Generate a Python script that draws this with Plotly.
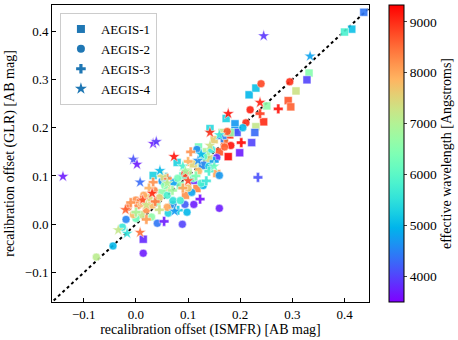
import numpy as np
import plotly.graph_objects as go

FONT = 'Liberation Serif'

# AEGIS-1 (squares)
x1 = [0.437, 0.414, 0.400, 0.332, 0.328, 0.307, 0.292, 0.297, 0.251, 0.245, 0.230, 0.228, 0.222, 0.199,
      0.177, 0.217, 0.230, 0.173, 0.190, 0.190, 0.194, 0.142, 0.079, 0.033, 0.014, 0.117, 0.111, 0.180,
      0.170, 0.160, 0.140, 0.125, 0.100, 0.085, 0.060, 0.040, 0.070, 0.150, 0.120, 0.181, 0.155, 0.095, 0.128,
      0.010, 0.030, 0.050, 0.110, 0.135, 0.165, 0.090]
y1 = [0.439, 0.404, 0.398, 0.313, 0.299, 0.276, 0.256, 0.243, 0.245, 0.212, 0.202, 0.190, 0.169, 0.148,
      0.140, 0.268, 0.282, 0.219, 0.208, 0.194, 0.190, 0.198, 0.128, 0.101, -0.031, 0.074, 0.091, 0.185,
      0.168, 0.150, 0.136, 0.120, 0.108, 0.080, 0.075, 0.045, 0.040, 0.175, 0.160, 0.190, 0.105, 0.060, 0.122,
      0.020, 0.040, 0.065, 0.125, 0.150, 0.190, 0.100]
w1 = [4400, 5100, 5800, 6500, 4000, 7300, 8700, 8600, 6600, 9000, 7200, 4300, 4000, 3700,
      9300, 5000, 5100, 5300, 4700, 4700, 4100, 5400, 5300, 5300, 3800, 8300, 3800, 8900,
      8400, 8700, 7400, 6700, 7000, 6400, 7400, 6600, 7600, 7600, 6300, 6600, 8000, 8200, 4500,
      7200, 7800, 6600, 7500, 6900, 7200, 6000]

# AEGIS-2 (circles)
x2 = [0.295, 0.240, 0.219, 0.211, 0.175, 0.205, 0.160, 0.129, 0.160, 0.111, 0.107, 0.155, 0.117, 0.182,
      -0.076, -0.044, -0.019, -0.026, 0.014, 0.041, 0.089, 0.071, 0.098, 0.094, 0.062, 0.004, 0.010, 0.071,
      0.085, 0.050, 0.072, 0.094, 0.000, 0.020, 0.030, 0.060, 0.110, 0.130, 0.145, 0.140, 0.170, 0.060,
      0.025, 0.120, -0.015, 0.000, 0.015, 0.035, -0.005, 0.045, 0.055, 0.080, 0.100, 0.125]
y2 = [0.295, 0.291, 0.237, 0.210, 0.192, 0.200, 0.101, 0.080, 0.033, 0.041, 0.066, 0.138, 0.155, 0.163,
      -0.068, -0.045, 0.010, -0.006, -0.060, 0.002, 0.000, 0.041, 0.025, 0.041, 0.023, 0.039, 0.043, 0.049,
      0.049, 0.089, 0.087, 0.105, 0.012, 0.030, 0.015, 0.060, 0.095, 0.140, 0.155, 0.120, 0.160, 0.035,
      0.055, 0.110, 0.035, 0.050, 0.060, 0.070, 0.020, 0.055, 0.080, 0.095, 0.075, 0.085]
w2 = [9000, 8800, 9100, 9000, 8700, 5000, 4700, 5000, 3700, 3700, 4800, 3800, 4600, 9200,
      7100, 5000, 4500, 5600, 3700, 4400, 4000, 4600, 5000, 4200, 5300, 8300, 7800, 5500,
      5700, 4700, 4800, 8900, 6200, 8200, 6600, 5800, 6200, 6000, 5600, 5200, 8600, 8000,
      7500, 7800, 8400, 8200, 8000, 8300, 7800, 7600, 6500, 6300, 7700, 5800]

# AEGIS-3 (plus)
x3 = [0.273, 0.238, 0.202, 0.234, 0.123, 0.165, 0.054, 0.081, 0.058, 0.033, 0.037, 0.010, 0.090, 0.070,
      0.115, 0.140, 0.020, 0.045, 0.100, 0.150, 0.135, 0.000, -0.010, 0.025, 0.060, 0.050, 0.105]
y3 = [0.239, 0.229, 0.169, 0.097, 0.052, 0.179, 0.006, 0.029, 0.097, 0.087, 0.047, 0.050, 0.075, 0.070,
      0.100, 0.110, 0.010, 0.030, 0.130, 0.130, 0.090, 0.025, 0.045, 0.075, 0.095, 0.100, 0.150]
w3 = [9200, 8900, 9300, 4100, 3600, 4500, 3700, 5200, 5300, 8200, 8400, 8300, 8000, 6800,
      6400, 5800, 8100, 7300, 7900, 4800, 5600, 6900, 8200, 7900, 8300, 7400, 8200]

# AEGIS-4 (stars)
x4 = [-0.140, 0.245, 0.334, 0.238, 0.177, 0.142, 0.073, 0.033, 0.039, -0.005, 0.002, 0.008, 0.046, 0.031,
      0.013, 0.142, 0.119, 0.008, -0.034, -0.017, 0.074, 0.100, 0.060, 0.125, 0.150, 0.090,
      -0.020, 0.020, 0.095, 0.160]
y4 = [0.099, 0.390, 0.348, 0.252, 0.229, 0.190, 0.140, 0.167, 0.171, 0.134, 0.124, 0.087, 0.111, 0.064,
      0.050, 0.163, 0.132, -0.017, -0.012, -0.019, 0.027, 0.090, 0.085, 0.145, 0.120, 0.120,
      0.030, 0.040, 0.110, 0.185]
w4 = [3700, 3900, 4800, 9100, 9200, 9000, 9200, 3700, 3900, 4100, 3700, 4300, 5000, 9000,
      8700, 7300, 4600, 8500, 7200, 5500, 4700, 8800, 7000, 5000, 6200, 5800,
      8600, 7300, 6800, 5600]

groups = ['AEGIS-1', 'AEGIS-2', 'AEGIS-3', 'AEGIS-4']
symbols = ['square', 'circle', 'cross', 'star']
sizes = [8, 8, 8, 9]

# matplotlib "rainbow" colormap
stops = np.linspace(0, 1, 21)
rainbow = []
for s in stops:
    r = min(1.0, abs(2 * s - 0.5))
    g = np.sin(np.pi * s)
    b = np.cos(np.pi * s / 2)
    rainbow.append([float(s), f'rgb({int(r*255)},{int(g*255)},{int(max(b,0)*255)})'])

WMIN, WMAX = 3490, 9330

fig = go.Figure()

# 1:1 line
fig.add_trace(go.Scatter(x=[-0.2, 0.5], y=[-0.2, 0.5], mode='lines',
                         line=dict(color='black', width=2, dash='dot'), showlegend=False, hoverinfo='skip'))

data = [(x1, y1, w1), (x2, y2, w2), (x3, y3, w3), (x4, y4, w4)]
for i, (xs, ys, ws) in enumerate(data):
    fig.add_trace(go.Scatter(
        x=xs, y=ys, mode='markers', showlegend=False,
        marker=dict(symbol=symbols[i], size=sizes[i], color=ws, colorscale=rainbow, cmin=WMIN, cmax=WMAX,
                    opacity=0.9, line=dict(color='white', width=0.5),
                    showscale=(i == 0),
                    colorbar=dict(x=1.063, xanchor='left', y=0.5, yanchor='middle', len=1.0, thickness=15,
                                  outlinecolor='black', outlinewidth=1, xpad=0, ypad=0,
                                  tickvals=[4000, 5000, 6000, 7000, 8000, 9000], ticks='outside', ticklen=3,
                                  tickfont=dict(family=FONT, size=13.5, color='black'),
                                  title=dict(text='effective wavelength [Angstroms]', side='right',
                                             font=dict(family=FONT, size=14, color='black')))),
    ))

# legend entries
for i, g in enumerate(groups):
    fig.add_trace(go.Scatter(x=[None], y=[None], mode='markers', name=g,
                             marker=dict(symbol=symbols[i], size=sizes[i], color='#1f77b4')))

axis_common = dict(showline=True, linecolor='black', linewidth=1, mirror=True, ticks='inside', ticklen=4,
                   tickcolor='black', showgrid=False, zeroline=False,
                   tickfont=dict(family=FONT, size=13, color='black'))

fig.update_layout(
    width=458, height=340,
    margin=dict(l=52, r=89, t=5, b=38, autoexpand=False),
    plot_bgcolor='white', paper_bgcolor='white',
    font=dict(family=FONT, size=13, color='black'),
    xaxis=dict(range=[-0.161, 0.447], tickvals=[-0.1, 0.0, 0.1, 0.2, 0.3, 0.4], tickformat='.1f',
               title=dict(text='recalibration offset (ISMFR) [AB mag]', standoff=2,
                          font=dict(family=FONT, size=14)), **axis_common),
    yaxis=dict(range=[-0.161, 0.454], tickvals=[-0.1, 0.0, 0.1, 0.2, 0.3, 0.4], tickformat='.1f',
               title=dict(text='recalibration offset (GLR) [AB mag]', standoff=6,
                          font=dict(family=FONT, size=14)), **axis_common),
    legend=dict(x=0.025, y=0.973, xanchor='left', yanchor='top', bgcolor='rgba(255,255,255,0.8)',
                bordercolor='#cccccc', borderwidth=1, font=dict(family=FONT, size=13), tracegroupgap=0,
                itemwidth=30),
)

fig.write_html("out.html", config={'displayModeBar': False},
               post_script="document.body.style.margin='0px';")
